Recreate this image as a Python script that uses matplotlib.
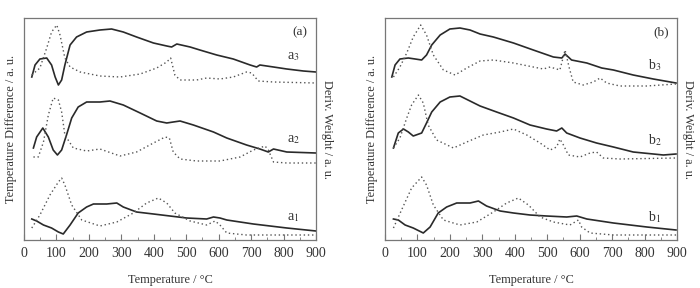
import matplotlib
matplotlib.use("Agg")
import matplotlib.pyplot as plt
from matplotlib.ticker import MultipleLocator

plt.rcParams['font.family'] = ['Liberation Serif', 'DejaVu Serif']
plt.rcParams['mathtext.fontset'] = 'stix'

# values, y in arbitrary units (curves stacked)
# panel (a)
a3_dta_t = [24, 34, 49, 70, 85, 96, 106, 116, 126, 142, 162, 193, 234, 270, 306, 347, 399, 440, 455, 471, 512, 542, 594, 645, 697, 717, 727, 769, 810, 861, 900]
a3_dta_y = [163, 175, 181, 182, 175, 163, 155, 160, 175, 195, 203, 208, 210, 211, 208, 203, 197, 194, 193, 196, 193, 190, 185, 181, 175, 173, 175, 173, 171, 169, 168]
a3_dtg_t = [24, 49, 70, 85, 101, 111, 126, 142, 173, 234, 296, 358, 409, 440, 452, 465, 481, 532, 563, 604, 645, 686, 702, 722, 769, 900]
a3_dtg_y = [165, 172, 192, 208, 215, 205, 182, 173, 168, 164, 163, 166, 172, 178, 182, 165, 160, 160, 162, 161, 163, 168, 167, 159, 158, 157]

a2_dta_t = [29, 39, 58, 75, 90, 103, 116, 131, 147, 167, 193, 234, 265, 306, 358, 409, 440, 460, 481, 522, 584, 625, 686, 727, 753, 769, 810, 900]
a2_dta_y = [92, 103, 112, 103, 90, 85, 90, 105, 122, 133, 138, 138, 139, 135, 127, 119, 117, 118, 119, 115, 108, 102, 95, 91, 88, 91, 88, 87]
a2_dtg_t = [29, 44, 60, 75, 90, 106, 116, 126, 152, 193, 234, 296, 347, 399, 435, 448, 460, 481, 532, 604, 666, 707, 743, 753, 769, 810, 900]
a2_dtg_y = [83, 83, 98, 125, 142, 140, 128, 105, 92, 89, 91, 84, 88, 97, 103, 102, 88, 81, 79, 79, 83, 90, 94, 90, 78, 77, 77]

a1_dta_t = [24, 39, 60, 85, 106, 121, 142, 167, 193, 214, 255, 286, 306, 347, 399, 450, 501, 563, 584, 604, 625, 707, 810, 900]
a1_dta_y = [21, 19, 15, 12, 8, 6, 15, 27, 33, 36, 36, 37, 33, 28, 26, 24, 22, 21, 23, 22, 20, 16, 12, 9]
a1_dtg_t = [24, 49, 80, 106, 116, 126, 147, 178, 234, 286, 337, 378, 414, 440, 465, 512, 563, 589, 604, 625, 686, 900]
a1_dtg_y = [12, 25, 45, 58, 62, 55, 35, 20, 14, 18, 27, 37, 42, 37, 27, 19, 15, 19, 15, 7, 5, 5]

# panel (b)
b3_dta_t = [21, 31, 46, 72, 93, 113, 128, 144, 170, 200, 231, 262, 293, 334, 396, 457, 519, 545, 555, 575, 622, 668, 704, 765, 827, 897]
b3_dta_y = [163, 175, 181, 182, 181, 180, 185, 195, 205, 211, 212, 210, 206, 203, 197, 190, 183, 182, 186, 180, 177, 172, 170, 165, 161, 157]
b3_dtg_t = [26, 46, 67, 87, 110, 128, 149, 180, 216, 252, 293, 334, 396, 457, 488, 509, 539, 555, 568, 580, 611, 642, 663, 683, 724, 806, 897]
b3_dtg_y = [163, 173, 187, 203, 215, 205, 185, 170, 165, 172, 179, 180, 177, 173, 171, 173, 170, 190, 172, 158, 155, 158, 162, 157, 154, 154, 156]

b2_dta_t = [26, 41, 57, 72, 87, 113, 128, 144, 170, 200, 231, 262, 293, 344, 396, 447, 498, 529, 545, 560, 601, 652, 704, 765, 827, 858, 897]
b2_dta_y = [92, 107, 111, 108, 104, 107, 117, 128, 138, 143, 144, 139, 134, 128, 122, 115, 111, 109, 112, 107, 102, 97, 93, 88, 86, 85, 86]
b2_dtg_t = [26, 46, 67, 82, 103, 118, 133, 159, 211, 252, 303, 355, 396, 437, 478, 509, 529, 539, 550, 565, 601, 632, 652, 673, 724, 897]
b2_dtg_y = [92, 102, 122, 135, 145, 137, 115, 100, 92, 98, 105, 108, 111, 105, 97, 90, 93, 101, 95, 85, 83, 87, 88, 82, 81, 82]

b1_dta_t = [26, 41, 62, 87, 118, 139, 164, 190, 221, 262, 288, 313, 355, 396, 447, 498, 560, 591, 622, 704, 807, 897]
b1_dta_y = [21, 20, 15, 12, 7, 13, 27, 33, 37, 37, 39, 34, 29, 27, 25, 24, 23, 24, 21, 17, 13, 10]
b1_dtg_t = [26, 51, 82, 113, 128, 149, 180, 231, 283, 334, 375, 411, 442, 478, 519, 570, 596, 606, 632, 704, 897]
b1_dtg_y = [12, 30, 52, 63, 55, 35, 20, 15, 18, 28, 37, 42, 35, 23, 18, 15, 20, 13, 7, 5, 5]

panels = [
    ("(a)", ["a$_3$", "a$_2$", "a$_1$"],
     [(a3_dta_t, a3_dta_y, a3_dtg_t, a3_dtg_y),
      (a2_dta_t, a2_dta_y, a2_dtg_t, a2_dtg_y),
      (a1_dta_t, a1_dta_y, a1_dtg_t, a1_dtg_y)],
     [183, 100, 22]),
    ("(b)", ["b$_3$", "b$_2$", "b$_1$"],
     [(b3_dta_t, b3_dta_y, b3_dtg_t, b3_dtg_y),
      (b2_dta_t, b2_dta_y, b2_dtg_t, b2_dtg_y),
      (b1_dta_t, b1_dta_y, b1_dtg_t, b1_dtg_y)],
     [175, 100, 23]),
]

fig = plt.figure(figsize=(7, 2.88), dpi=100)
lefts = [24 / 700, 385 / 700]
frame = '#777777'
txt = '#333333'

for left, (tag, names, curves, label_y) in zip(lefts, panels):
    ax = fig.add_axes([left, 48 / 288, 292 / 700, 222 / 288])
    for (t1, y1, t2, y2) in curves:
        ax.plot(t1, y1, color='#2a2a2a', lw=1.2)
        ax.plot(t2, y2, color='#555555', lw=1.0, ls=(0, (1, 2)))
    for name, ly in zip(names, label_y):
        ax.text(812, ly, name, fontsize=10, color=txt, va='center')
    ax.text(850, 208, tag, fontsize=9.5, color=txt, ha='center', va='center')
    ax.set_xlim(0, 900)
    ax.set_ylim(0, 222)
    ax.xaxis.set_major_locator(MultipleLocator(100))
    ax.xaxis.set_minor_locator(MultipleLocator(50))
    ax.set_yticks([])
    ax.tick_params(axis='x', which='major', direction='in', length=4, color=frame,
                   labelsize=10, labelcolor=txt, pad=5)
    ax.tick_params(axis='x', which='minor', direction='in', length=2, color=frame)
    for s in ax.spines.values():
        s.set_color(frame)
        s.set_linewidth(0.9)
    ax.set_xlabel("Temperature / °C", fontsize=8.8, color=txt, labelpad=10)
    ax.set_ylabel("Temperature Difference / a. u.", fontsize=8.8, color=txt, labelpad=5)
    ax2 = ax.twinx()
    ax2.set_yticks([])
    ax2.set_ylabel("Deriv. Weight / a. u.", fontsize=8.8, color=txt,
                   rotation=-90, labelpad=12)
    for s in ax2.spines.values():
        s.set_visible(False)

fig.savefig("out.png", dpi=100)
